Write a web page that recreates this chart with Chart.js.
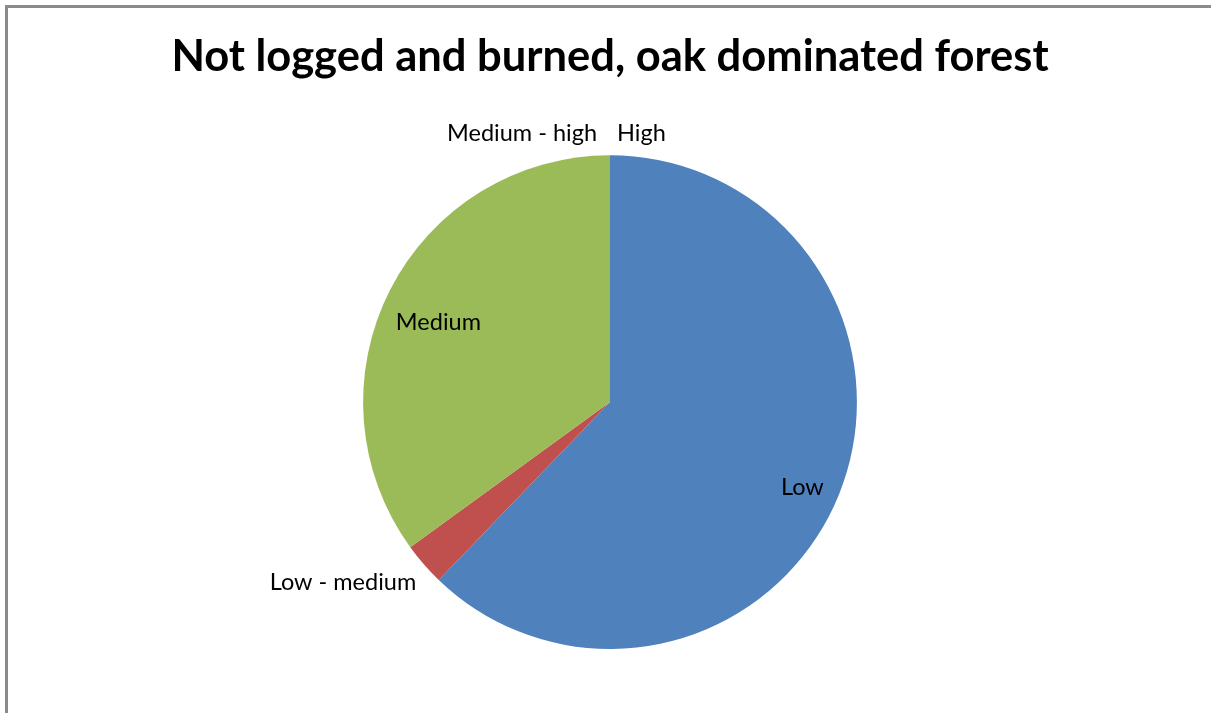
<!DOCTYPE html>
<html>
<head>
<meta charset="utf-8">
<script src="https://cdn.jsdelivr.net/npm/chart.js@4/dist/chart.umd.min.js"></script>
<style>
  html, body { margin: 0; padding: 0; background: #fff; overflow: hidden; }
  #frame {
    position: absolute; left: 5px; top: 5px; width: 1300px; height: 800px;
    border-left: 3px solid #8a8a8a; border-top: 3px solid #8a8a8a;
  }
  #chart { position: absolute; left: 0; top: 0; }
</style>
</head>
<body>
<div id="frame"></div>
<canvas id="chart" width="1211" height="713"></canvas>
<script>
// Daten
const categories = ['Low', 'Low - medium', 'Medium', 'Medium - high', 'High'];
const values = [62.2, 2.8, 35.0, 0, 0];
const sliceColors = ['#4F81BD', '#C0504D', '#9BBB59', '#8064A2', '#4BACC6'];

// Beschriftungen direkt an die Segmente schreiben (wie in Excel)
const sliceLabels = {
  id: 'sliceLabels',
  afterDatasetsDraw(chart, args, opts) {
    const ctx = chart.ctx;
    const arcs = chart.getDatasetMeta(0).data;
    ctx.save();
    ctx.font = opts.font;
    ctx.fillStyle = '#000';
    arcs.forEach((arc, i) => {
      const p = arc.getProps(['x', 'y', 'startAngle', 'endAngle', 'outerRadius']);
      const mid = (p.startAngle + p.endAngle) / 2;
      const dx = Math.cos(mid), dy = Math.sin(mid);
      const place = opts.placement[i];
      let r, align, base, sx = 0, sy = 0;
      if (place === 'inside') {
        r = p.outerRadius * opts.insideFactor[i];
        align = 'center'; base = 'middle'; sy = opts.insideDy;
      } else {
        r = p.outerRadius + opts.gap;
        if (place === 'outside-left') { align = 'right'; sx = -opts.leftShift; }
        else if (place === 'outside-right') { align = 'left'; sx = opts.rightShift; }
        else { align = dx < 0 ? 'right' : 'left'; }
        base = dy > 0 ? 'top' : 'bottom';
      }
      ctx.textAlign = align;
      ctx.textBaseline = base;
      ctx.fillText(categories[i], p.x + dx * r + sx, p.y + dy * r + sy);
    });
    ctx.restore();
  }
};

const ctx = document.getElementById('chart').getContext('2d');
const myChart = new Chart(ctx, {
  type: 'pie',
  data: {
    labels: categories,
    datasets: [{
      data: values,
      backgroundColor: sliceColors,
      borderWidth: 0
    }]
  },
  options: {
    responsive: false,
    animation: false,
    layout: { padding: { top: 0, bottom: 64, left: 9, right: 0 } },
    plugins: {
      legend: { display: false },
      tooltip: { enabled: false },
      title: {
        display: true,
        text: 'Not logged and burned, oak dominated forest',
        color: '#000',
        font: { family: 'Lato', size: 43.5, weight: 'bold', lineHeight: 1.2 },
        padding: { top: 31, bottom: 72 }
      },
      sliceLabels: {
        font: '23.5px Lato',
        placement: ['inside', 'outside', 'inside', 'outside-left', 'outside-right'],
        insideFactor: [0.84, 0, 0.78, 0, 0],
        insideDy: 8,
        gap: 10,
        leftShift: 13,
        rightShift: 7
      }
    }
  },
  plugins: [sliceLabels]
});
</script>
</body>
</html>
